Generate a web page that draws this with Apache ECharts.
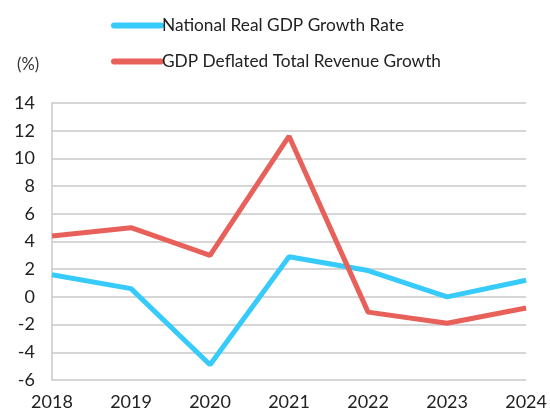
<!DOCTYPE html>
<html><head><meta charset="utf-8">
<script src="https://cdn.jsdelivr.net/npm/echarts@6/dist/echarts.min.js"></script>
<style>html,body{margin:0;padding:0;background:#fff}#c{width:550px;height:411px}</style>
</head><body><div id="c"></div>
<script>
const years = ['2018','2019','2020','2021','2022','2023','2024'];
const gdpGrowth = [1.6, 0.6, -4.9, 2.9, 1.9, 0.0, 1.2];
const revenueGrowth = [4.4, 5.0, 3.0, 11.6, -1.1, -1.9, -0.8];
const yTicks = {min: -6, max: 14, interval: 2};

const chart = echarts.init(document.getElementById('c'));
const font = 'Lato, "Open Sans", sans-serif';
chart.setOption({
  animation: false,
  textStyle: {fontFamily: font},
  legend: {
    orient: 'vertical', left: 106, top: 12, itemGap: 19,
    itemWidth: 53, itemHeight: 22, icon: 'path://M3,8 L50,8 A3,3 0 0 1 50,14 L3,14 A3,3 0 0 1 3,8 Z',
    textStyle: {fontFamily: font, fontSize: 17.3, color: '#222', padding: [0,0,0,-7]},
    data: ['National Real GDP Growth Rate', 'GDP Deflated Total Revenue Growth']
  },
  graphic: [{type: 'text', left: 17, top: 56, style: {text: '(%)', font: '16.5px ' + font, fill: '#333'}}],
  grid: {left: 52, right: 22, top: 103, bottom: 30, containLabel: false},
  xAxis: {
    type: 'category', data: years, boundaryGap: false,
    axisLine: {show: false}, axisTick: {show: false},
    axisLabel: {fontFamily: font, fontSize: 18, color: '#222', margin: 13}
  },
  yAxis: {
    type: 'value', min: yTicks.min, max: yTicks.max, interval: yTicks.interval,
    axisLine: {show: true, lineStyle: {color: '#c8c8c8', width: 1.5}},
    axisTick: {show: false},
    splitLine: {lineStyle: {color: '#c8c8c8', width: 1.5}},
    axisLabel: {fontFamily: font, fontSize: 18, color: '#222', margin: 17}
  },
  series: [
    {name: 'National Real GDP Growth Rate', type: 'line', data: gdpGrowth, symbol: 'none',
     lineStyle: {color: '#36CBFB', width: 5}, itemStyle: {color: '#36CBFB'}},
    {name: 'GDP Deflated Total Revenue Growth', type: 'line', data: revenueGrowth, symbol: 'none',
     lineStyle: {color: '#E8605A', width: 5}, itemStyle: {color: '#E8605A'}}
  ]
});
</script></body></html>
